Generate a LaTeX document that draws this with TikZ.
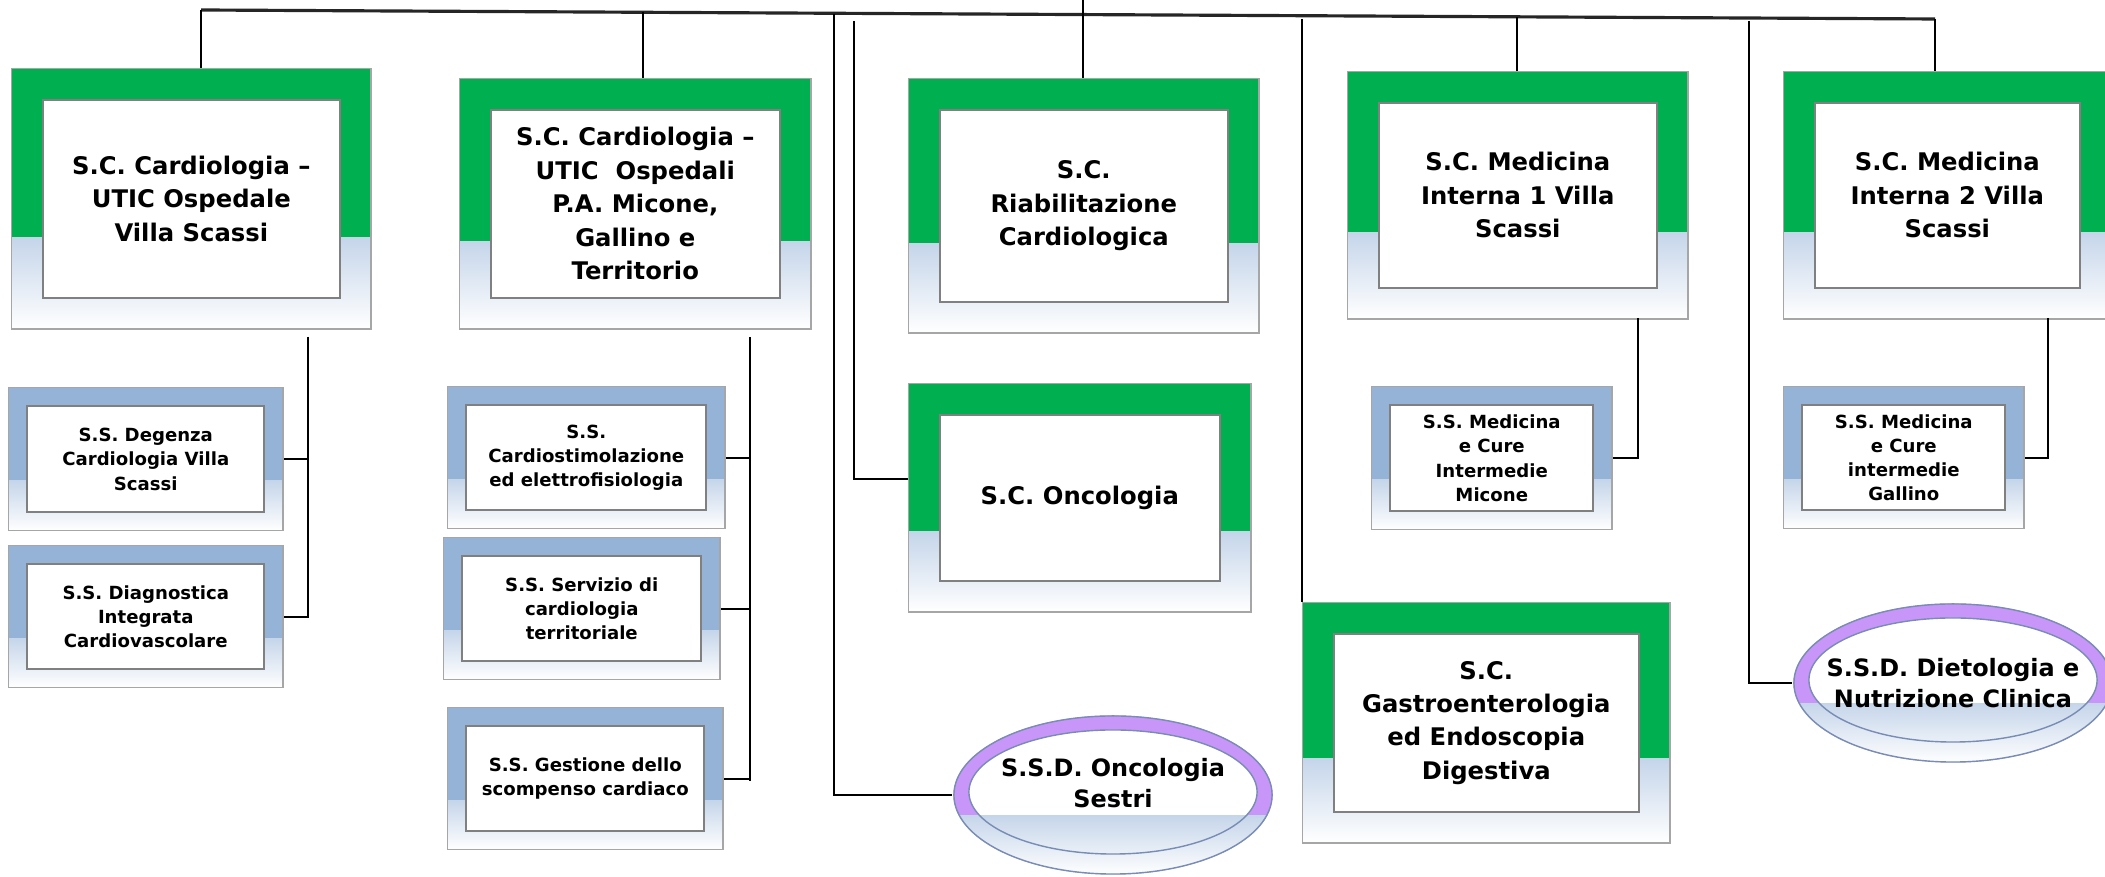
\documentclass[tikz,border=0pt]{standalone}
\usepackage{fontspec}
\setmainfont{DejaVu Sans}
\usetikzlibrary{calc}
\definecolor{unitgreen}{RGB}{0,176,80}
\definecolor{subblue}{RGB}{149,179,215}
\definecolor{ssdpurple}{RGB}{200,150,248}
\definecolor{glow}{RGB}{197,213,234}
\definecolor{ringedge}{RGB}{120,140,180}
\colorlet{box edge}{gray!70}
\colorlet{inner edge}{gray}
\tikzset{panel/.style 2 args={draw=box edge, line width=0.4pt, inner sep=0pt, align=center, anchor=north west,
		path picture={
			\coordinate (sw) at (path picture bounding box.south west);
			\coordinate (ne) at (path picture bounding box.north east);
			\coordinate (cut) at ($(sw)!0.35!(ne)$);
			\fill[#1] (sw |- ne) rectangle (cut -| ne);
			\shade[top color=glow, bottom color=white] (sw) rectangle (cut -| ne);
			\filldraw[fill=white, draw=inner edge, line width=0.5pt] ([shift={(#2,#2)}]sw) rectangle ([shift={(-#2,-#2)}]ne);
		}},
	unit/.style={panel={unitgreen}{3.1mm}, font=\bfseries\fontsize{6.9}{9.5}\selectfont},
	subunit/.style={panel={subblue}{1.85mm}, font=\bfseries\fontsize{5.15}{6.9}\selectfont},
	ring/.style={inner sep=0pt, minimum width=3.2cm, minimum height=1.6cm, align=center,
		font=\bfseries\fontsize{6.8}{8.8}\selectfont,
		path picture={
			\coordinate (c) at (path picture bounding box.center);
			\fill[ssdpurple] (c) ellipse [x radius=1.595cm, y radius=0.795cm];
			\fill[white] ([yshift=0.3mm]c) ellipse [x radius=1.44cm, y radius=0.62cm];
			\begin{scope}
				\clip (c) ellipse [x radius=1.595cm, y radius=0.795cm];
				\shade[top color=glow, bottom color=white] ([yshift=-2mm]c) ++(-1.6cm,0) rectangle ++(3.2cm,-0.6cm);
			\end{scope}
			\draw[ringedge, line width=0.4pt] ([yshift=0.3mm]c) ellipse [x radius=1.44cm, y radius=0.62cm];
			\draw[ringedge, line width=0.4pt] (c) ellipse [x radius=1.59cm, y radius=0.79cm];
		}},
	link/.style={line width=0.6pt},
	bus/.style={line width=0.9pt, draw=black!85}}

\begin{document}
\begin{tikzpicture}[x=0.01cm, y=-0.01cm]
	\useasboundingbox (0,0) rectangle (2105,877);
	
	\node[unit, minimum width=3.59cm, minimum height=2.60cm] (cardA) at (11,68) {S.C. Cardiologia –\\UTIC Ospedale\\Villa Scassi};
	\node[unit, minimum width=3.51cm, minimum height=2.50cm] (cardB) at (459,78) {S.C. Cardiologia –\\UTIC~ Ospedali\\P.A. Micone,\\Gallino e\\Territorio};
	\node[unit, minimum width=3.50cm, minimum height=2.54cm] (riab) at (908,78) {S.C.\\Riabilitazione\\Cardiologica};
	\node[unit, minimum width=3.40cm, minimum height=2.47cm] (medD) at (1347,71) {S.C. Medicina\\Interna 1 Villa\\Scassi};
	\node[unit, minimum width=3.27cm, minimum height=2.47cm] (medE) at (1783,71) {S.C. Medicina\\Interna 2 Villa\\Scassi};
	\node[unit, minimum width=3.42cm, minimum height=2.28cm] (onco) at (908,383) {S.C. Oncologia};
	\node[unit, minimum width=3.67cm, minimum height=2.40cm] (gastro) at (1302,602) {S.C.\\Gastroenterologia\\ed Endoscopia\\Digestiva};
	
	\node[subunit, minimum width=2.74cm, minimum height=1.43cm] (degenza) at (8,387) {S.S. Degenza\\Cardiologia Villa\\Scassi};
	\node[subunit, minimum width=2.74cm, minimum height=1.42cm] (diagn) at (8,545) {S.S. Diagnostica\\Integrata\\Cardiovascolare};
	\node[subunit, minimum width=2.77cm, minimum height=1.42cm] (stim) at (447,386) {S.S.\\Cardiostimolazione\\ed elettrofisiologia};
	\node[subunit, minimum width=2.76cm, minimum height=1.42cm] (terr) at (443,537) {S.S. Servizio di\\cardiologia\\territoriale};
	\node[subunit, minimum width=2.75cm, minimum height=1.42cm] (scomp) at (447,707) {S.S. Gestione dello\\scompenso cardiaco};
	\node[subunit, minimum width=2.40cm, minimum height=1.43cm] (cureM) at (1371,386) {S.S. Medicina\\e Cure\\Intermedie\\Micone};
	\node[subunit, minimum width=2.40cm, minimum height=1.42cm] (cureG) at (1783,386) {S.S. Medicina\\e Cure\\intermedie\\Gallino};
	
	\node[ring, text depth=2.4mm] (sestri) at (1113,795) {S.S.D. Oncologia\\Sestri};
	\node[ring] (dieto) at (1953,683) {S.S.D. Dietologia e\\Nutrizione Clinica};
	
	\coordinate (busL) at (201,10);
	\coordinate (busR) at (1935,19);
	\coordinate (dropB) at (643,12);
	\coordinate (dropC) at (1083,0);
	\coordinate (dropG) at (834,14);
	\coordinate (dropF) at (854,21);
	\coordinate (kneeF) at (854,479);
	\coordinate (dropH) at (1302,19);
	\coordinate (dropD) at (1517,17);
	\coordinate (dropI) at (1749,21);
	\coordinate (subA) at (308,337);
	\coordinate (subB) at (750,337);
	\coordinate (endB) at (750,781);
	\coordinate (subD) at (1638,318);
	\coordinate (subE) at (2048,318);
	
	\draw[bus] (busL) -- (busR);
	\draw[link] (busL) -- (busL |- cardA.north);
	\draw[link] (dropB) -- (dropB |- cardB.north);
	\draw[link] (dropC) -- (dropC |- riab.north);
	\draw[link] (dropD) -- (dropD |- medD.north);
	\draw[link] (busR) -- (busR |- medE.north);
	\draw[link] (dropG) |- (sestri.west);
	\draw[link] (dropF) -- (kneeF) -- (kneeF -| onco.west);
	\draw[link] (dropH) -- (gastro.north west);
	\draw[link] (dropI) |- (dieto.west);
	
	\draw[link] (subA) |- (degenza.east);
	\draw[link] (subA) |- (diagn.east);
	\draw[link] (subB) -- (endB);
	\foreach \n in {stim,terr,scomp}
		\draw[link] (subB |- \n.east) -- (\n.east);
	\draw[link] (subD) |- (cureM.east);
	\draw[link] (subE) |- (cureG.east);
\end{tikzpicture}
\end{document}
